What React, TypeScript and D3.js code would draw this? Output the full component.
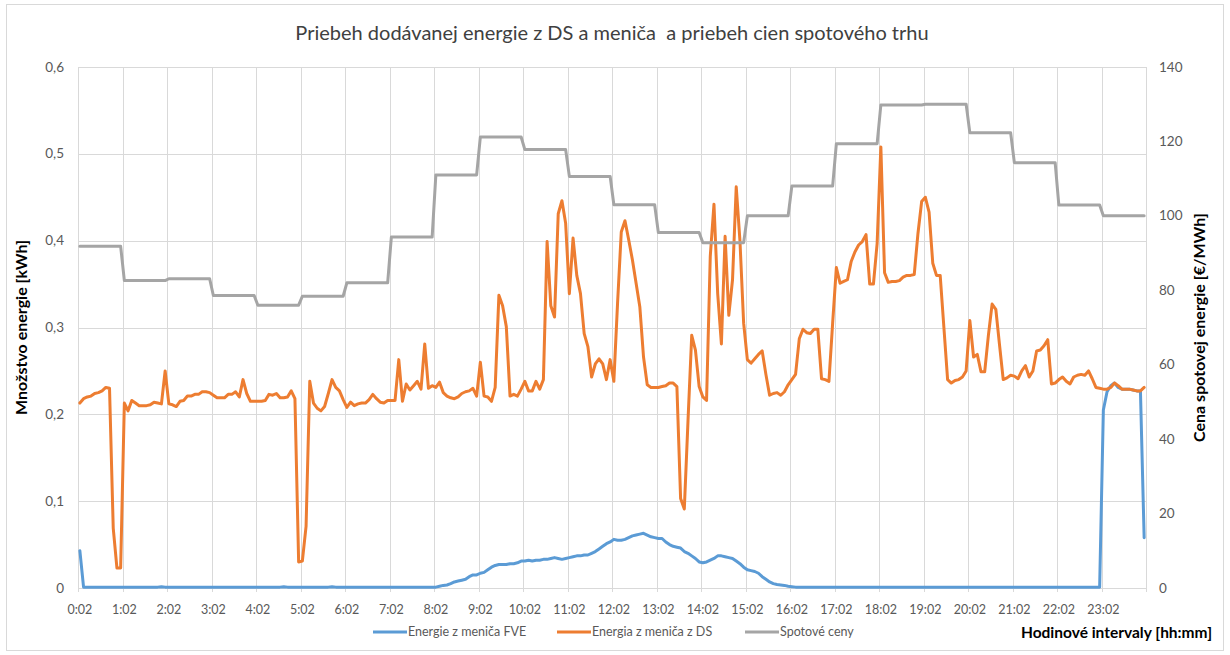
import React from 'react'
import * as d3 from 'd3'

// hodinové popisky osi X (každá 12. hodnota, 5-min intervaly)
const hourLabels = [
  '0:02', '1:02', '2:02', '3:02', '4:02', '5:02', '6:02', '7:02',
  '8:02', '9:02', '10:02', '11:02', '12:02', '13:02', '14:02', '15:02',
  '16:02', '17:02', '18:02', '19:02', '20:02', '21:02', '22:02', '23:02'
]

// Energie z meniča FVE [kWh], 5-min hodnoty, jeden riadok = jedna hodina
const energyFve = [
  0.043, 0.001, 0.001, 0.001, 0.001, 0.001, 0.001, 0.001, 0.001, 0.001, 0.001, 0.001,
  0.001, 0.001, 0.001, 0.001, 0.001, 0.001, 0.001, 0.001, 0.001, 0.001, 0.0015, 0.001,
  0.001, 0.001, 0.001, 0.001, 0.001, 0.001, 0.001, 0.001, 0.001, 0.001, 0.001, 0.001,
  0.001, 0.001, 0.001, 0.001, 0.001, 0.001, 0.001, 0.001, 0.001, 0.001, 0.001, 0.001,
  0.001, 0.001, 0.001, 0.001, 0.001, 0.001, 0.001, 0.0015, 0.001, 0.001, 0.001, 0.001,
  0.001, 0.001, 0.001, 0.001, 0.001, 0.001, 0.001, 0.001, 0.0015, 0.001, 0.001, 0.001,
  0.001, 0.001, 0.001, 0.001, 0.001, 0.001, 0.001, 0.001, 0.001, 0.001, 0.001, 0.001,
  0.001, 0.001, 0.001, 0.001, 0.001, 0.001, 0.001, 0.001, 0.001, 0.001, 0.001, 0.001,
  0.001, 0.002, 0.003, 0.0035, 0.005, 0.007, 0.008, 0.009, 0.01, 0.013, 0.015, 0.015,
  0.017, 0.018, 0.021, 0.024, 0.026, 0.027, 0.027, 0.027, 0.028, 0.028, 0.029, 0.031,
  0.031, 0.032, 0.031, 0.032, 0.032, 0.033, 0.033, 0.034, 0.035, 0.034, 0.033, 0.034,
  0.035, 0.036, 0.037, 0.037, 0.038, 0.038, 0.04, 0.042, 0.045, 0.048, 0.051, 0.053,
  0.056, 0.055, 0.055, 0.056, 0.058, 0.06, 0.061, 0.062, 0.063, 0.061, 0.059, 0.058,
  0.057, 0.057, 0.053, 0.05, 0.048, 0.047, 0.046, 0.042, 0.04, 0.037, 0.034, 0.03,
  0.029, 0.03, 0.032, 0.034, 0.037, 0.037, 0.036, 0.035, 0.034, 0.031, 0.028, 0.024,
  0.021, 0.02, 0.019, 0.017, 0.013, 0.01, 0.007, 0.005, 0.004, 0.0035, 0.003, 0.002,
  0.0015, 0.001, 0.001, 0.001, 0.001, 0.001, 0.001, 0.001, 0.001, 0.001, 0.001, 0.001,
  0.001, 0.001, 0.001, 0.001, 0.001, 0.001, 0.001, 0.001, 0.001, 0.001, 0.001, 0.001,
  0.001, 0.001, 0.001, 0.001, 0.001, 0.001, 0.001, 0.001, 0.001, 0.001, 0.001, 0.001,
  0.001, 0.001, 0.001, 0.001, 0.001, 0.001, 0.001, 0.001, 0.001, 0.001, 0.001, 0.001,
  0.001, 0.001, 0.001, 0.001, 0.001, 0.001, 0.001, 0.001, 0.001, 0.001, 0.001, 0.001,
  0.001, 0.001, 0.001, 0.001, 0.001, 0.001, 0.001, 0.001, 0.001, 0.001, 0.001, 0.001,
  0.001, 0.001, 0.001, 0.001, 0.001, 0.001, 0.001, 0.001, 0.001, 0.001, 0.001, 0.001,
  0.205, 0.226, 0.233, 0.236, 0.231, 0.229, 0.229, 0.229, 0.228, 0.227, 0.227, 0.058
]

// Energia z meniča z DS [kWh]
const energyDs = [
  0.213, 0.218, 0.22, 0.221, 0.224, 0.225, 0.227, 0.231, 0.23, 0.069, 0.023, 0.023,
  0.213, 0.204, 0.216, 0.213, 0.21, 0.21, 0.21, 0.211, 0.214, 0.213, 0.212, 0.25,
  0.212, 0.211, 0.209, 0.215, 0.216, 0.221, 0.221, 0.223, 0.223, 0.226, 0.226, 0.225,
  0.222, 0.219, 0.219, 0.219, 0.223, 0.223, 0.226, 0.22, 0.24, 0.224, 0.215, 0.215,
  0.215, 0.215, 0.216, 0.223, 0.222, 0.224, 0.219, 0.219, 0.22, 0.227, 0.218, 0.03,
  0.031, 0.071, 0.238, 0.213, 0.207, 0.204, 0.209, 0.224, 0.24, 0.231, 0.227, 0.217,
  0.208, 0.214, 0.21, 0.212, 0.213, 0.213, 0.217, 0.223, 0.218, 0.214, 0.213, 0.216,
  0.216, 0.216, 0.263, 0.215, 0.235, 0.228, 0.233, 0.238, 0.229, 0.281, 0.23, 0.233,
  0.231, 0.237, 0.225, 0.221, 0.219, 0.218, 0.22, 0.224, 0.226, 0.227, 0.23, 0.221,
  0.26, 0.221, 0.22, 0.215, 0.231, 0.337, 0.325, 0.301, 0.221, 0.223, 0.221, 0.229,
  0.238, 0.227, 0.227, 0.238, 0.229, 0.24, 0.399, 0.325, 0.312, 0.431, 0.446, 0.42,
  0.339, 0.403, 0.36, 0.339, 0.293, 0.278, 0.243, 0.258, 0.264, 0.258, 0.24, 0.263,
  0.238, 0.328, 0.41, 0.423, 0.401, 0.378, 0.351, 0.324, 0.266, 0.234, 0.231, 0.231,
  0.231, 0.232, 0.233, 0.236, 0.236, 0.232, 0.103, 0.091, 0.193, 0.291, 0.274, 0.232,
  0.22, 0.216, 0.382, 0.442, 0.339, 0.281, 0.405, 0.314, 0.355, 0.462, 0.4, 0.305,
  0.263, 0.259, 0.264, 0.269, 0.273, 0.246, 0.222, 0.224, 0.225, 0.222, 0.226, 0.234,
  0.24, 0.246, 0.287, 0.298, 0.294, 0.293, 0.298, 0.298, 0.241, 0.24, 0.238, 0.305,
  0.369, 0.351, 0.353, 0.355, 0.376, 0.387, 0.395, 0.399, 0.407, 0.35, 0.35, 0.397,
  0.508, 0.363, 0.352, 0.353, 0.353, 0.354, 0.358, 0.36, 0.36, 0.361, 0.408, 0.445,
  0.45, 0.433, 0.374, 0.36, 0.36, 0.3, 0.24, 0.236, 0.239, 0.24, 0.243, 0.25,
  0.308, 0.266, 0.269, 0.249, 0.249, 0.291, 0.327, 0.321, 0.28, 0.24, 0.242, 0.245,
  0.244, 0.241, 0.25, 0.256, 0.243, 0.25, 0.273, 0.274, 0.279, 0.286, 0.235, 0.236,
  0.24, 0.243, 0.238, 0.235, 0.243, 0.245, 0.246, 0.245, 0.25, 0.241, 0.231, 0.23,
  0.229, 0.229, 0.231, 0.236, 0.233, 0.229, 0.229, 0.229, 0.228, 0.227, 0.227, 0.231
]

// Spotové ceny [€/MWh], hodinové
const spotPrices = [
  91.8, 82.6, 83.1, 78.6, 76, 78.4, 82, 94.3, 111, 121.2, 117.8, 110.6,
  103, 95.5, 92.8, 100, 108, 119.4, 129.8, 130, 122.3, 114.3, 102.9, 100
]

const leftTicks = [0, 0.1, 0.2, 0.3, 0.4, 0.5, 0.6]
const rightTicks = [0, 20, 40, 60, 80, 100, 120, 140]

const FONT = 'Lato, "Open Sans", sans-serif'

export default function App() {
  const left = 78
  const right = 1146
  const top = 67
  const bottom = 588
  const n = energyDs.length

  const x = d3.scaleLinear().domain([0, n]).range([left, right])
  const yLeft = d3.scaleLinear().domain([0, 0.6]).range([bottom, top])
  const yRight = d3.scaleLinear().domain([0, 140]).range([bottom, top])

  const energyLine = d3
    .line<number>()
    .x((d, i) => x(i + 0.5))
    .y(d => yLeft(d))

  // cena platí celú hodinu -> body na začiatku a konci hodiny
  const spotPoints = spotPrices.flatMap((p, h) => [[h * 12, p], [h * 12 + 11, p]])
  const spotLine = d3
    .line<number[]>()
    .x(d => x(d[0] + 0.5))
    .y(d => yRight(d[1]))

  const gridX = d3.range(0, n + 1, 12)

  const legend = [
    {label: 'Energie z meniča FVE', color: '#5B9BD5', x: 373},
    {label: 'Energia z meniča z DS', color: '#ED7D31', x: 557},
    {label: 'Spotové ceny', color: '#A5A5A5', x: 745}
  ]

  return (
    <svg
      width={1230}
      height={655}
      style={{position: 'absolute', left: 0, top: 0, background: '#fff'}}
      fontFamily={FONT}
    >
      <rect x={6.5} y={4.5} width={1217} height={646} fill="#fff" stroke="#d9d9d9" />

      <text x={612} y={40} textAnchor="middle" fontSize={20} fill="#404040" style={{whiteSpace: 'pre'}}>
        {'Priebeh dodávanej energie z DS a meniča  a priebeh cien spotového trhu'}
      </text>

      {/* mriežka */}
      <g stroke="#d9d9d9" strokeWidth={1}>
        {leftTicks.map(t => (
          <line key={'h' + t} x1={left} x2={right} y1={Math.round(yLeft(t)) + 0.5} y2={Math.round(yLeft(t)) + 0.5} />
        ))}
        {gridX.map(g => (
          <line key={'v' + g} x1={Math.round(x(g)) + 0.5} x2={Math.round(x(g)) + 0.5} y1={top} y2={bottom + 4} />
        ))}
      </g>

      {/* ľavá os */}
      <g fontSize={13.5} fill="#595959" textAnchor="end">
        {leftTicks.map(t => (
          <text key={t} x={64} y={yLeft(t) + 4.5}>
            {t === 0 ? '0' : t.toFixed(1).replace('.', ',')}
          </text>
        ))}
      </g>
      {/* pravá os */}
      <g fontSize={13.5} fill="#595959" textAnchor="start">
        {rightTicks.map(t => (
          <text key={t} x={1159} y={yRight(t) + 4.5}>
            {t}
          </text>
        ))}
      </g>
      {/* os X */}
      <g fontSize={12.5} fill="#595959" textAnchor="middle">
        {hourLabels.map((lab, k) => (
          <text key={lab} x={x(k * 12 + 0.5)} y={614}>
            {lab}
          </text>
        ))}
      </g>

      <text
        transform={`translate(27,${(top + bottom) / 2}) rotate(-90)`}
        textAnchor="middle"
        fontSize={16}
        fontWeight="bold"
        fill="#000"
      >
        Množstvo energie [kWh]
      </text>
      <text
        transform={`translate(1205,${(top + bottom) / 2}) rotate(-90)`}
        textAnchor="middle"
        fontSize={16}
        fontWeight="bold"
        fill="#000"
      >
        Cena spotovej energie [€/MWh]
      </text>
      <text x={1212} y={638} textAnchor="end" fontSize={15.5} fontWeight="bold" fill="#000">
        Hodinové intervaly [hh:mm]
      </text>

      {/* série */}
      <g fill="none" strokeWidth={3} strokeLinejoin="round" strokeLinecap="round">
        <path d={energyLine(energyFve) || ''} stroke="#5B9BD5" />
        <path d={energyLine(energyDs) || ''} stroke="#ED7D31" />
        <path d={spotLine(spotPoints) || ''} stroke="#A5A5A5" />
      </g>

      {/* legenda */}
      <g fontSize={12.5} fill="#595959">
        {legend.map(item => (
          <g key={item.label}>
            <line x1={item.x} x2={item.x + 34} y1={632} y2={632} stroke={item.color} strokeWidth={3} />
            <text x={item.x + 35} y={636}>
              {item.label}
            </text>
          </g>
        ))}
      </g>
    </svg>
  )
}
